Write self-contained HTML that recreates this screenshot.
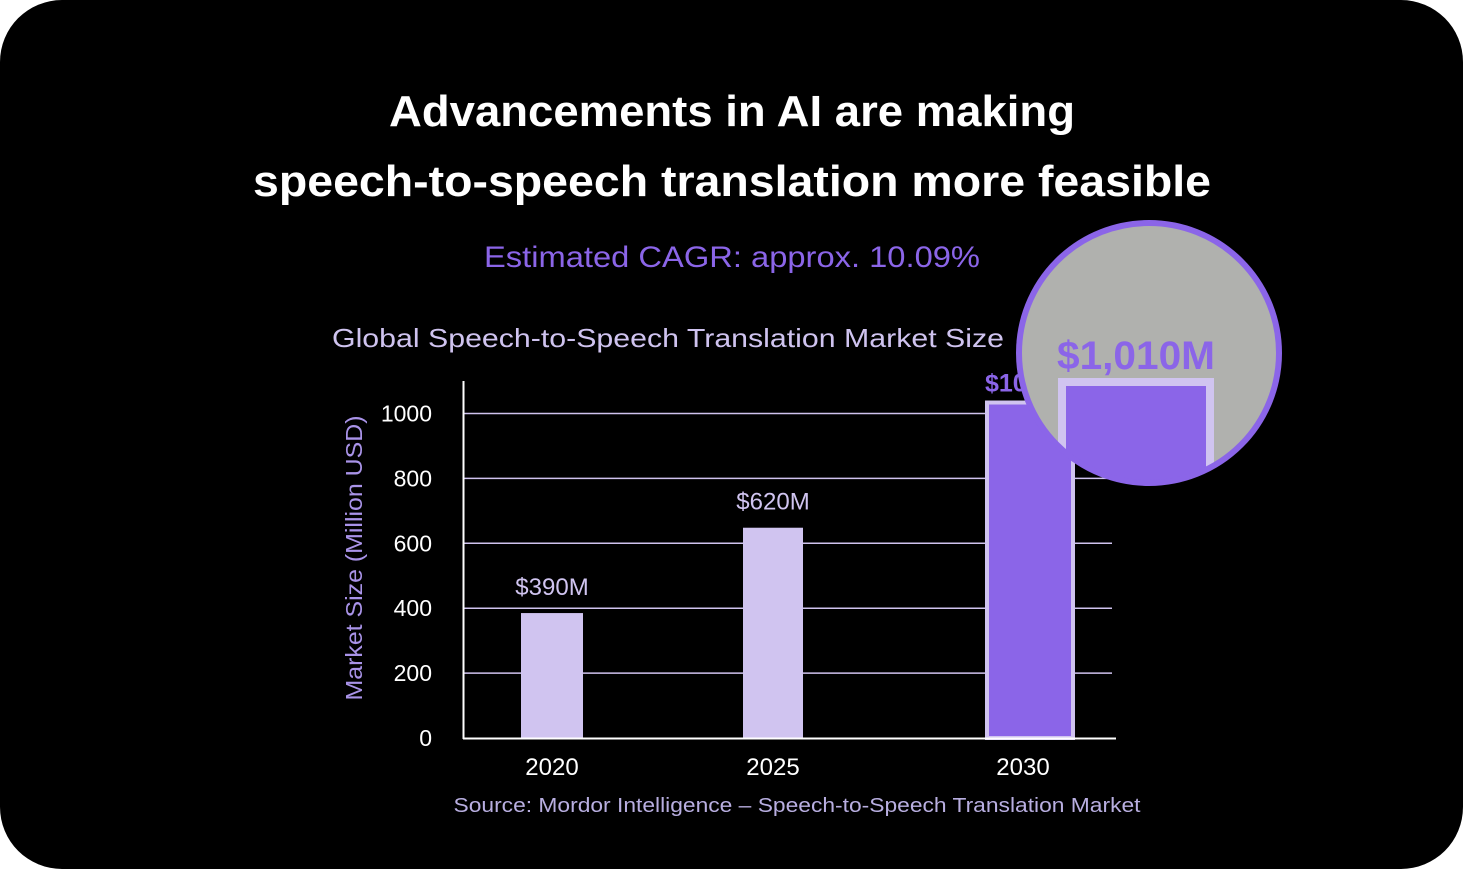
<!DOCTYPE html>
<html><head><meta charset="utf-8"><style>
html,body{margin:0;padding:0;background:#fff;}
svg{display:block;font-family:"Liberation Sans",sans-serif;}
</style></head><body>
<svg width="1463" height="869" viewBox="0 0 1463 869">
<rect x="0" y="0" width="1463" height="869" rx="62" fill="#000"/>
<text x="732" y="126" text-anchor="middle" fill="#fff" font-size="44" font-weight="bold" textLength="686" lengthAdjust="spacingAndGlyphs">Advancements in AI are making</text>
<text x="732" y="196" text-anchor="middle" fill="#fff" font-size="44" font-weight="bold" textLength="958" lengthAdjust="spacingAndGlyphs">speech-to-speech translation more feasible</text>
<text x="732" y="267" text-anchor="middle" fill="#8b65e8" font-size="30" textLength="496" lengthAdjust="spacingAndGlyphs">Estimated CAGR: approx. 10.09%</text>
<text x="668" y="347" text-anchor="middle" fill="#cfc3ef" font-size="26" textLength="672" lengthAdjust="spacingAndGlyphs">Global Speech-to-Speech Translation Market Size</text>
<text transform="translate(362,558) rotate(-90)" text-anchor="middle" fill="#a993e8" font-size="23" textLength="285" lengthAdjust="spacingAndGlyphs">Market Size (Million USD)</text>
<g id="grid"></g>
<g id="bars"></g>
<line x1="463.5" y1="381" x2="463.5" y2="739" stroke="#fff" stroke-width="2"/>
<line x1="463" y1="738.5" x2="1116" y2="738.5" stroke="#fff" stroke-width="2"/>
<text x="797" y="812" text-anchor="middle" fill="#b8aee0" font-size="20" textLength="687" lengthAdjust="spacingAndGlyphs">Source: Mordor Intelligence – Speech-to-Speech Translation Market</text>
<g>
<clipPath id="mc"><circle cx="1149" cy="353" r="128"/></clipPath>
<circle cx="1149" cy="353" r="128" fill="#b0b1ae"/>
<g clip-path="url(#mc)">
<rect x="1062" y="382" width="148" height="200" fill="#8b65e8" stroke="#d0c4f0" stroke-width="8"/>
<text x="1136" y="369" text-anchor="middle" fill="#8b65e8" font-size="40" font-weight="bold" textLength="158" lengthAdjust="spacingAndGlyphs">$1,010M</text>
</g>
<circle cx="1149" cy="353" r="130" fill="none" stroke="#8b65e8" stroke-width="6"/>
</g>
</svg>
<script>
const categories=["2020","2025","2030"];
const values=[385,648,1040];
const valueLabels=["$390M","$620M","$10"];
const yTicks=[0,200,400,600,800,1000];
const NS="http://www.w3.org/2000/svg";
const y0=738,k=0.3245;
function yS(v){return y0-v*k;}
const xCenters={"2020":552,"2025":773,"2030":1030};
const widths={"2020":62,"2025":60,"2030":90};
function xS(c){return xCenters[c];}
const grid=document.getElementById('grid');
yTicks.forEach(t=>{
 if(t>0){const l=document.createElementNS(NS,'line');
 l.setAttribute('x1',463);l.setAttribute('x2',1112);l.setAttribute('y1',yS(t));l.setAttribute('y2',yS(t));
 l.setAttribute('stroke','#cfc3ef');l.setAttribute('stroke-width','1.5');
 
 
 grid.appendChild(l);}
 const tx=document.createElementNS(NS,'text');
 tx.setAttribute('x',432);tx.setAttribute('y',yS(t)+8);tx.setAttribute('text-anchor','end');
 tx.setAttribute('fill','#fff');tx.setAttribute('font-size','23');tx.textContent=t;
 
 
 grid.appendChild(tx);
});
const bars=document.getElementById('bars');
categories.forEach((c,i)=>{
 const w=widths[c],x=xS(c)-w/2,top=yS(values[i]);
 const r=document.createElementNS(NS,'rect');
 const hi=i===2;
 r.setAttribute('x',hi?x+2:x);r.setAttribute('y',hi?top+2:top);
 r.setAttribute('width',hi?w-4:w);r.setAttribute('height',y0-top-(hi?2:0));
 r.setAttribute('fill',hi?'#8b65e8':'#d0c4f0');
 if(hi){r.setAttribute('stroke','#d0c4f0');r.setAttribute('stroke-width','4');}
 
 
 bars.appendChild(r);
 const lb=document.createElementNS(NS,'text');
 lb.setAttribute('x',hi?985:xS(c));lb.setAttribute('y',hi?top-9:top-18);
 lb.setAttribute('text-anchor',hi?'start':'middle');
 lb.setAttribute('fill',hi?'#8b65e8':'#d0c4f0');lb.setAttribute('font-size',hi?'25':'24');
 if(hi)lb.setAttribute('font-weight','bold');
 lb.textContent=valueLabels[i];
 
 
 bars.appendChild(lb);
 const xl=document.createElementNS(NS,'text');
 xl.setAttribute('x',xS(c)-(hi?7:0));xl.setAttribute('y',775);xl.setAttribute('text-anchor','middle');
 xl.setAttribute('fill','#fff');xl.setAttribute('font-size','24');xl.textContent=c;
 
 
 bars.appendChild(xl);
});
</script>
</body></html>
